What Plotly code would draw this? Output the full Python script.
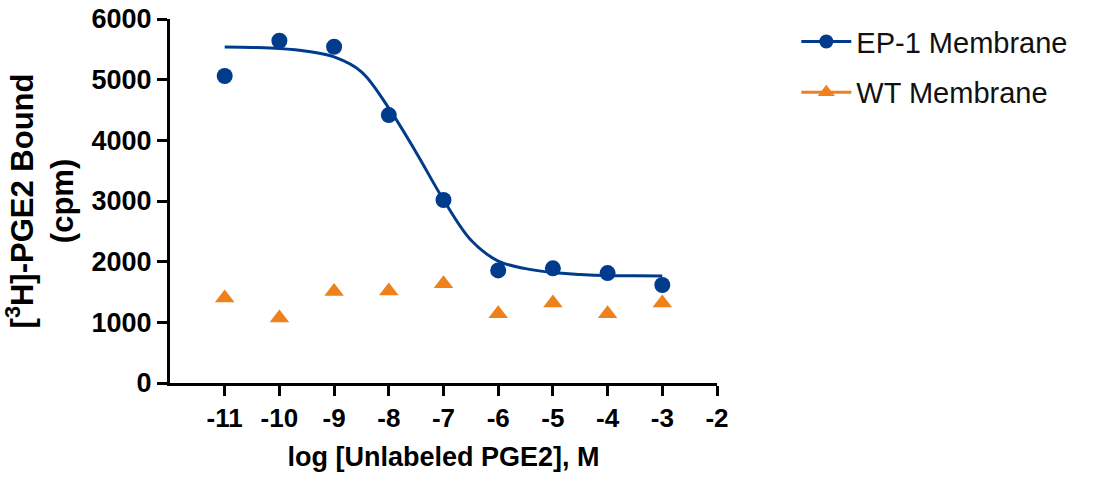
import plotly.graph_objects as go

# ---- data ----
log_conc = [-11, -10, -9, -8, -7, -6, -5, -4, -3]
ep1_bound = [5060, 5642, 5543, 4417, 3016, 1855, 1890, 1812, 1615]
wt_bound = [1400, 1070, 1510, 1515, 1635, 1140, 1320, 1140, 1320]

# fitted curve for EP-1
fit_x = [-11, -10.5, -10, -9.5, -9, -8.5, -8, -7.5, -7, -6.5, -6, -5.5, -5, -4.5, -4, -3.5, -3]
fit_y = [5540, 5532, 5515, 5470, 5375, 5130, 4530, 3800, 3020, 2357, 2010, 1885, 1820, 1790, 1772, 1766, 1763]

x_ticks = [-11, -10, -9, -8, -7, -6, -5, -4, -3, -2]
y_ticks = [0, 1000, 2000, 3000, 4000, 5000, 6000]

BLUE = "#003B8C"
ORANGE = "#EF811B"
FONT = "Liberation Sans, Arial, sans-serif"

fig = go.Figure()

fig.add_trace(go.Scatter(
    x=fit_x, y=fit_y, mode="lines", line=dict(color=BLUE, width=3, shape="spline"),
    showlegend=False, hoverinfo="skip"))
fig.add_trace(go.Scatter(
    x=log_conc, y=ep1_bound, mode="markers",
    marker=dict(symbol="circle", size=16, color=BLUE), showlegend=False))
fig.add_trace(go.Scatter(
    x=log_conc, y=wt_bound, mode="markers",
    marker=dict(symbol="triangle-up", size=17, color=ORANGE), showlegend=False))

# legend entries (line + symbol)
fig.add_trace(go.Scatter(
    x=[None], y=[None], mode="lines+markers", name="EP-1 Membrane", legendgroup="a",
    line=dict(color=BLUE, width=3), marker=dict(symbol="circle", size=14, color=BLUE)))
fig.add_trace(go.Scatter(
    x=[None], y=[None], mode="lines+markers", name="WT Membrane", legendgroup="b",
    line=dict(color=ORANGE, width=3), marker=dict(symbol="triangle-up", size=15, color=ORANGE)))

fig.update_layout(
    width=1096, height=478,
    margin=dict(l=170, r=379, t=19, b=95, autoexpand=False),
    paper_bgcolor="white", plot_bgcolor="white",
    font=dict(family=FONT, color="black"),
    legend=dict(
        x=1.145, xanchor="left", y=1.008, yanchor="top",
        font=dict(family=FONT, size=29, color="#111111"),
        itemwidth=50,
        tracegroupgap=10, bgcolor="rgba(0,0,0,0)"),
    xaxis=dict(
        range=[-12, -2], tickmode="array", tickvals=x_ticks, ticktext=[str(v) for v in x_ticks],
        automargin=False,
        showgrid=False, zeroline=False, showline=True, linecolor="black", linewidth=3,
        ticks="outside", ticklen=10, tickwidth=3, tickcolor="black",
        tickfont=dict(family=FONT, size=26, color="black", weight="bold"),
        title=dict(text="log [Unlabeled PGE2], M", standoff=15,
                   font=dict(family=FONT, size=27, color="black", weight="bold"))),
    yaxis=dict(
        range=[0, 6000], tickmode="array", tickvals=y_ticks, ticktext=[str(v) for v in y_ticks],
        automargin=False,
        showgrid=False, zeroline=False, showline=True, linecolor="black", linewidth=3,
        ticks="outside", ticklen=10, tickwidth=3, tickcolor="black",
        tickfont=dict(family=FONT, size=27, color="black", weight="bold"),
        title=dict(text="[<sup>3</sup>H]-PGE2 Bound<br>(cpm)", standoff=16,
                   font=dict(family=FONT, size=31, color="black", weight="bold"))),
)

# remove the page's default 8px body margin so the figure sits at (0, 0)
fig.write_html("out.html", config={"displayModeBar": False},
               post_script="document.body.style.margin='0px';")
